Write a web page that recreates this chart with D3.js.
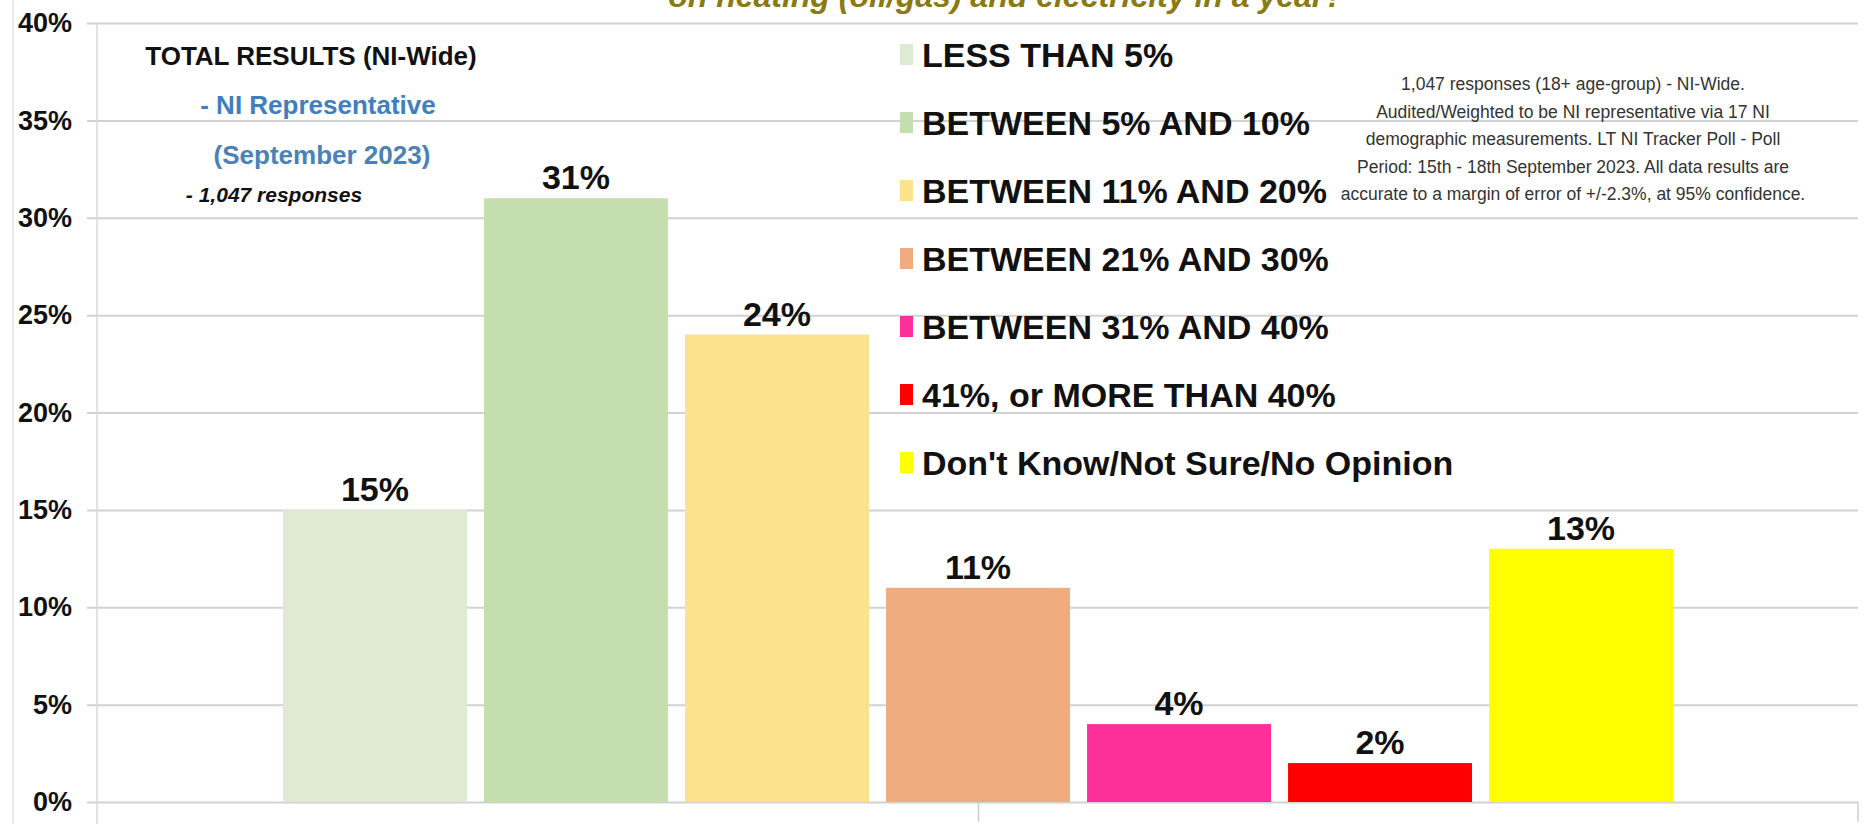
<!DOCTYPE html>
<html>
<head>
<meta charset="utf-8">
<script src="https://cdn.jsdelivr.net/npm/d3@7"></script>
<style>
  html, body { margin: 0; padding: 0; background: #ffffff; }
  svg { display: block; font-family: "Liberation Sans", Arial, sans-serif; }
</style>
</head>
<body>
<svg id="chart" width="1866" height="824"></svg>
<script>
// ---- data ----
const categories = [
  "LESS THAN 5%",
  "BETWEEN 5% AND 10%",
  "BETWEEN 11% AND 20%",
  "BETWEEN 21% AND 30%",
  "BETWEEN 31% AND 40%",
  "41%, or MORE THAN 40%",
  "Don't Know/Not Sure/No Opinion"
];
const values = [15, 31, 24, 11, 4, 2, 13];
const colors = ["#dfead5", "#c4dfad", "#fde28e", "#f0ac7f", "#fd2f98", "#fe0000", "#ffff00"];
const yTicks = [0, 5, 10, 15, 20, 25, 30, 35, 40];
const titleText = "on heating (oil/gas) and electricity in a year?";
const infoLines = [
  "TOTAL RESULTS (NI-Wide)",
  "- NI Representative",
  "(September 2023)",
  "- 1,047 responses"
];
const noteLines = [
  "1,047 responses (18+ age-group) - NI-Wide.",
  "Audited/Weighted to be NI representative via 17 NI",
  "demographic measurements. LT NI Tracker Poll - Poll",
  "Period: 15th - 18th September 2023. All data results are",
  "accurate to a margin of error of +/-2.3%, at 95% confidence."
];

// ---- layout ----
const svg = d3.select("#chart");
const plotLeft = 87, plotRight = 1858, axisX = 97;
const y = d3.scaleLinear().domain([0, 40]).range([802, 23]);
const x = d3.scaleBand().domain(categories).range([283, 1673]).paddingInner(0.085).paddingOuter(0);

// faint frame line at left
svg.append("line").attr("x1", 13).attr("x2", 13).attr("y1", 0).attr("y2", 824)
  .attr("stroke", "#e4e4e4").attr("stroke-width", 1.5);

// title (second line, mostly cut off at top as in the source)
svg.append("text").attr("x", 1006).attr("y", 7).attr("text-anchor", "middle")
  .attr("font-size", 32).attr("font-weight", "bold").attr("font-style", "italic")
  .attr("fill", "#8a7a12").text(titleText);

// gridlines + y axis labels
const yAxis = d3.axisLeft(y).tickValues(yTicks).tickFormat(d => d + "%")
  .tickSize(-(plotRight - plotLeft)).tickPadding(15);
const gy = svg.append("g").attr("transform", `translate(${plotLeft},0)`).call(yAxis);
gy.select(".domain").remove();
gy.selectAll(".tick line").attr("stroke", "#d2d2d2").attr("stroke-width", 2);
gy.selectAll(".tick text").attr("font-size", 27).attr("font-weight", "bold")
  .attr("fill", "#111").attr("font-family", "'Liberation Sans', Arial, sans-serif");

// vertical axis line
svg.append("line").attr("x1", axisX).attr("x2", axisX).attr("y1", y(40)).attr("y2", 824)
  .attr("stroke", "#d8d8d8").attr("stroke-width", 1.5);

// x-axis ticks below baseline (middle and right end)
const xTickPos = [(axisX + plotRight) / 2 + 1, plotRight];
svg.selectAll(".xtick").data(xTickPos).enter().append("line")
  .attr("x1", d => d).attr("x2", d => d).attr("y1", y(0)).attr("y2", 822)
  .attr("stroke", "#cfcfcf").attr("stroke-width", 1.5);

// bars
svg.selectAll(".bar").data(values).enter().append("rect")
  .attr("x", (d, i) => x(categories[i]))
  .attr("y", d => y(d))
  .attr("width", x.bandwidth())
  .attr("height", d => y(0) - y(d))
  .attr("fill", (d, i) => colors[i]);

// value labels
svg.selectAll(".vlabel").data(values).enter().append("text")
  .attr("x", (d, i) => x(categories[i]) + x.bandwidth() / 2)
  .attr("y", d => y(d) - 9)
  .attr("text-anchor", "middle")
  .attr("font-size", 34).attr("font-weight", "bold").attr("fill", "#111")
  .text(d => d + "%");

// legend
const legendX = 900, legendY0 = 67, legendStep = 68;
const lg = svg.selectAll(".leg").data(categories).enter().append("g")
  .attr("transform", (d, i) => `translate(${legendX},${legendY0 + i * legendStep})`);
lg.append("rect").attr("x", 0).attr("y", -23).attr("width", 13).attr("height", 21)
  .attr("fill", (d, i) => colors[i]);
lg.append("text").attr("x", 22).attr("y", 0)
  .attr("font-size", 34).attr("font-weight", "bold").attr("fill", "#111")
  .text(d => d);

// info block (top-left)
const infoStyles = [
  { x: 311, y: 65, size: 26, color: "#111", style: "normal" },
  { x: 318, y: 114, size: 26, color: "#3f7fbf", style: "normal" },
  { x: 322, y: 164, size: 26, color: "#4a82b8", style: "normal" },
  { x: 274, y: 202, size: 21, color: "#111", style: "italic" }
];
svg.selectAll(".info").data(infoLines).enter().append("text")
  .attr("x", (d, i) => infoStyles[i].x)
  .attr("y", (d, i) => infoStyles[i].y)
  .attr("text-anchor", "middle")
  .attr("font-size", (d, i) => infoStyles[i].size)
  .attr("font-weight", "bold")
  .attr("font-style", (d, i) => infoStyles[i].style)
  .attr("fill", (d, i) => infoStyles[i].color)
  .text(d => d);

// note block (top-right)
svg.selectAll(".note").data(noteLines).enter().append("text")
  .attr("x", 1573)
  .attr("y", (d, i) => 90 + i * 27.5)
  .attr("text-anchor", "middle")
  .attr("font-size", 17.5)
  .attr("fill", "#333")
  .text(d => d);
</script>
</body>
</html>
